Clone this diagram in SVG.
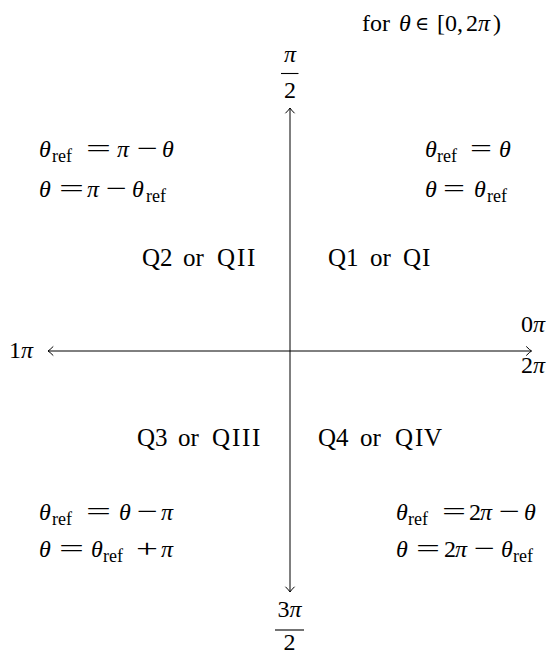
<svg xmlns="http://www.w3.org/2000/svg" width="548" height="654" viewBox="0 0 548 654">
<style>
text{font-family:"Liberation Serif","DejaVu Serif",serif;font-size:24px;fill:#000}
.q{font-size:25px}
.i{font-style:italic}
.s{font-size:18px}
.o{font-size:26px}
.ax{stroke:#000;stroke-width:1;fill:none}
.bar{stroke:#000;stroke-width:1.1}
</style>
<defs>
<marker id="ah" viewBox="-7 -6 8 12" markerWidth="8" markerHeight="12" refX="0" refY="0" orient="auto" markerUnits="userSpaceOnUse">
<path d="M-5,-4.3 Q-1.5,-0.8 0,0 Q-1.5,0.8 -5,4.3" fill="none" stroke="#000" stroke-width="1" stroke-linecap="round"/>
</marker>
</defs>
<g id="connectors">
<line class="ax" x1="290" y1="351" x2="48" y2="351" marker-end="url(#ah)"/>
<line class="ax" x1="290" y1="351" x2="531.5" y2="351" marker-end="url(#ah)"/>
<line class="ax" x1="290" y1="351" x2="290" y2="108" marker-end="url(#ah)"/>
<line class="ax" x1="290" y1="351" x2="290" y2="592" marker-end="url(#ah)"/>
</g>
<g id="domain"><text y="31"><tspan x="362">for</tspan> <tspan x="399" class="i">θ</tspan> <tspan x="415" font-family="DejaVu Serif" font-size="19" dy="-1">∈</tspan><tspan dy="1"> </tspan><tspan x="437">[0,</tspan> <tspan x="466">2</tspan><tspan class="i">π</tspan><tspan x="493">)</tspan></text></g>
<g id="top-label">
<text x="290" y="62" text-anchor="middle" class="i">π</text>
<line class="bar" x1="281" y1="73.5" x2="298.5" y2="73.5"/>
<text x="290" y="98" text-anchor="middle">2</text>
</g>
<g id="bottom-label">
<text x="289.5" y="617" text-anchor="middle">3<tspan class="i">π</tspan></text>
<line class="bar" x1="275" y1="630" x2="304" y2="630"/>
<text x="289.5" y="650" text-anchor="middle">2</text>
</g>
<g id="left-label"><text x="9" y="358">1<tspan class="i">π</tspan></text></g>
<g id="right-label">
<text x="545" y="332" text-anchor="end">0<tspan class="i">π</tspan></text>
<text x="545" y="373" text-anchor="end">2<tspan class="i">π</tspan></text>
</g>
<g id="q1">
<text class="q" y="266"><tspan x="328">Q1</tspan> <tspan x="370">or</tspan> <tspan x="403">Q</tspan><tspan x="422">I</tspan></text>
<text y="157"><tspan x="425" class="i">θ</tspan><tspan x="437" dy="5" class="s">ref</tspan><tspan x="470" dy="-5" class="o" textLength="22" lengthAdjust="spacingAndGlyphs">=</tspan><tspan x="499" class="i">θ</tspan></text>
<text y="197"><tspan x="425" class="i">θ</tspan><tspan x="443" class="o" textLength="22" lengthAdjust="spacingAndGlyphs">=</tspan><tspan x="474" class="i">θ</tspan><tspan x="487" dy="5" class="s">ref</tspan></text>
</g>
<g id="q2">
<text class="q" y="266"><tspan x="142">Q2</tspan> <tspan x="183">or</tspan> <tspan x="217">Q</tspan><tspan x="237">I</tspan><tspan x="247">I</tspan></text>
<text y="157"><tspan x="39" class="i">θ</tspan><tspan x="52" dy="5" class="s">ref</tspan><tspan x="86" dy="-5" class="o" textLength="25" lengthAdjust="spacingAndGlyphs">=</tspan><tspan x="117" class="i">π</tspan><tspan x="137" class="o" textLength="21" lengthAdjust="spacingAndGlyphs">−</tspan><tspan x="162" class="i">θ</tspan></text>
<text y="197"><tspan x="39" class="i">θ</tspan><tspan x="59" class="o" textLength="25" lengthAdjust="spacingAndGlyphs">=</tspan><tspan x="87" class="i">π</tspan><tspan x="106" class="o" textLength="21" lengthAdjust="spacingAndGlyphs">−</tspan><tspan x="132" class="i">θ</tspan><tspan x="146" dy="5" class="s">ref</tspan></text>
</g>
<g id="q3">
<text class="q" y="446"><tspan x="137">Q3</tspan> <tspan x="178">or</tspan> <tspan x="212">Q</tspan><tspan x="232">I</tspan><tspan x="242">I</tspan><tspan x="252">I</tspan></text>
<text y="520"><tspan x="39" class="i">θ</tspan><tspan x="52" dy="5" class="s">ref</tspan><tspan x="86" dy="-5" class="o" textLength="25" lengthAdjust="spacingAndGlyphs">=</tspan><tspan x="119" class="i">θ</tspan><tspan x="137" class="o" textLength="21" lengthAdjust="spacingAndGlyphs">−</tspan><tspan x="161" class="i">π</tspan></text>
<text y="557"><tspan x="39" class="i">θ</tspan><tspan x="59" class="o" textLength="25" lengthAdjust="spacingAndGlyphs">=</tspan><tspan x="91" class="i">θ</tspan><tspan x="103" dy="5" class="s">ref</tspan><tspan x="136" dy="-5" class="o" textLength="22" lengthAdjust="spacingAndGlyphs">+</tspan><tspan x="161" class="i">π</tspan></text>
</g>
<g id="q4">
<text class="q" y="446"><tspan x="318">Q4</tspan> <tspan x="360">or</tspan> <tspan x="395">Q</tspan><tspan x="415">I</tspan><tspan x="424">V</tspan></text>
<text y="520"><tspan x="396" class="i">θ</tspan><tspan x="408" dy="5" class="s">ref</tspan><tspan x="442" dy="-5" class="o" textLength="24" lengthAdjust="spacingAndGlyphs">=</tspan><tspan x="469">2</tspan><tspan x="480" class="i">π</tspan><tspan x="499" class="o" textLength="21" lengthAdjust="spacingAndGlyphs">−</tspan><tspan x="524" class="i">θ</tspan></text>
<text y="557"><tspan x="396" class="i">θ</tspan><tspan x="416" class="o" textLength="24" lengthAdjust="spacingAndGlyphs">=</tspan><tspan x="444">2</tspan><tspan x="455" class="i">π</tspan><tspan x="474" class="o" textLength="21" lengthAdjust="spacingAndGlyphs">−</tspan><tspan x="501" class="i">θ</tspan><tspan x="513" dy="5" class="s">ref</tspan></text>
</g>
</svg>
